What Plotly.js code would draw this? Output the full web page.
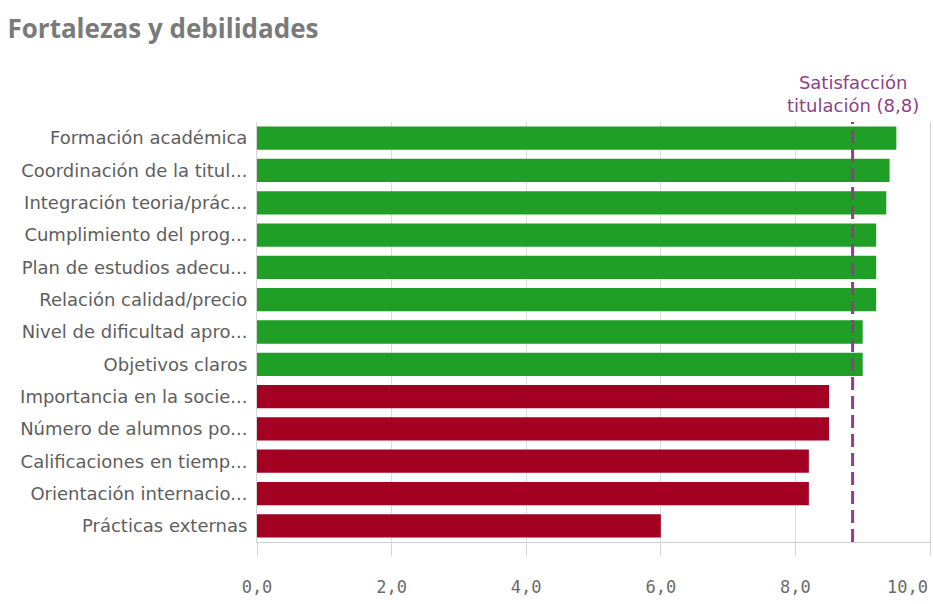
<!DOCTYPE html>
<html>
<head>
<meta charset="utf-8">
<script src="https://cdn.plot.ly/plotly-3.0.1.min.js"></script>
<style>html,body{margin:0;padding:0;background:#fff;}#chart{width:933px;height:604px;}</style>
</head>
<body>
<div id="chart"></div>
<script>
const categories = [
  "Formación académica",
  "Coordinación de la titul...",
  "Integración teoria/prác...",
  "Cumplimiento del prog...",
  "Plan de estudios adecu...",
  "Relación calidad/precio",
  "Nivel de dificultad apro...",
  "Objetivos claros",
  "Importancia en la socie...",
  "Número de alumnos po...",
  "Calificaciones en tiemp...",
  "Orientación internacio...",
  "Prácticas externas"
];
const values = [9.5, 9.4, 9.35, 9.2, 9.2, 9.2, 9.0, 9.0, 8.5, 8.5, 8.2, 8.2, 6.0];
const reference = 8.85;
const referenceLabel = "Satisfacción<br>titulación (8,8)";
const tickVals = [0, 2, 4, 6, 8, 10];
const tickText = ["0,0", "2,0", "4,0", "6,0", "8,0", "10,0"];
const strongColor = "#1f9f26";
const weakColor = "#a30022";

const colors = values.map(v => v >= reference ? strongColor : weakColor);
const lastTick = tickVals.length - 1;
// The last tick label is right-aligned to the plot edge (as in the reference), drawn as an annotation
const shownTickText = tickText.map((t, i) => i === lastTick ? "" : t);

const tickFont = {family: "DejaVu Sans Mono", size: 17, color: "#6b6b6b"};

const trace = {
  type: "bar",
  orientation: "h",
  x: values,
  y: categories,
  marker: {color: colors},
  hoverinfo: "x+y"
};

const layout = {
  width: 933,
  height: 604,
  margin: {l: 257, r: 3, t: 122, b: 62},
  paper_bgcolor: "#fff",
  plot_bgcolor: "#fff",
  bargap: 0.28,
  showlegend: false,
  title: {
    text: "Fortalezas y debilidades",
    x: 0.008, xanchor: "left",
    y: 0.952, yanchor: "middle",
    font: {family: "Open Sans", size: 26, color: "#7a7a7a", weight: 700}
  },
  xaxis: {
    range: [0, 10],
    tickvals: tickVals,
    ticktext: shownTickText,
    showgrid: true,
    gridcolor: "#dcdcdc",
    gridwidth: 1,
    zeroline: false,
    showline: true,
    linecolor: "#cfcfcf",
    ticks: "outside",
    ticklen: 13,
    tickcolor: "#d5d5d5",
    ticklabelstandoff: 17,
    tickfont: tickFont,
    fixedrange: true
  },
  yaxis: {
    autorange: "reversed",
    showline: true,
    mirror: true,
    linecolor: "#d5d5d5",
    showgrid: false,
    ticks: "",
    ticklabelstandoff: 5,
    tickfont: {family: "DejaVu Sans", size: 18, color: "#5e5e5e"},
    fixedrange: true
  },
  shapes: [{
    type: "line",
    xref: "x", yref: "paper",
    x0: reference, x1: reference, y0: 0, y1: 1.0,
    line: {color: "#8e3f88", width: 3, dash: "13px,6px"}
  }],
  annotations: [{
    xref: "x", yref: "paper",
    x: reference, y: 1.0,
    xanchor: "center", yanchor: "bottom",
    yshift: 4,
    text: referenceLabel,
    showarrow: false,
    align: "center",
    font: {family: "DejaVu Sans", size: 18, color: "#8e3f88"}
  }, {
    xref: "x", yref: "paper",
    x: tickVals[lastTick], y: 0,
    xanchor: "right", yanchor: "middle",
    yshift: -45,
    text: tickText[lastTick],
    showarrow: false,
    font: tickFont
  }]
};

Plotly.newPlot("chart", [trace], layout, {displayModeBar: false, staticPlot: true});
</script>
</body>
</html>
